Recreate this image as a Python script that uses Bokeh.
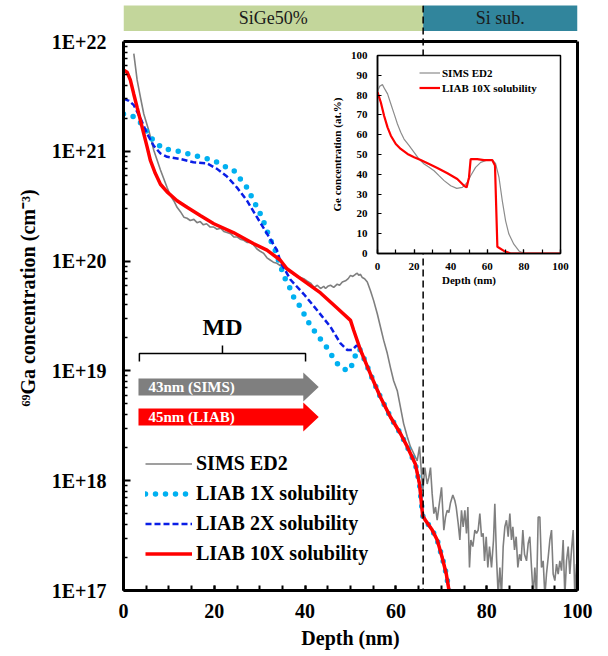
from bokeh.plotting import figure
from bokeh.models import (Range1d, LinearScale, LogAxis, Span, Legend, LegendItem,
                          CustomJSTickFormatter, FixedTicker, SingleIntervalTicker)
from bokeh.core.properties import value
from bokeh.layouts import column
from bokeh.embed import file_html
from bokeh.resources import INLINE

FONT = "Liberation Serif"

# ---------------- data (main plot: depth in nm, log10 of concentration in cm^-3) -------------
sims_depth = [2.27, 3.0, 3.74, 4.47, 5.57, 6.67, 8.14, 9.6, 10.3, 11.07, 11.8, 12.54, 13.3, 14.0, 14.7,
              15.5, 16.2, 16.9, 17.6, 18.3, 19.1, 19.9, 20.6, 21.4, 22.1, 22.8, 23.6, 24.3, 25.0, 25.7,
              26.5, 27.2, 27.9, 28.6, 29.4, 30.1, 30.9, 31.6, 32.3, 33.0, 33.8, 34.5, 35.3, 36.0, 36.8,
              37.5, 38.2, 39.0, 39.7, 40.4, 41.2, 42.0, 42.7, 43.4, 44.1, 44.5, 45.0, 45.6, 46.3, 47.07,
              47.6, 48.2, 48.9, 49.5, 50.0, 50.5, 51.1, 51.5, 51.8, 52.2, 52.6, 53.1, 53.7, 54.4, 55.1,
              55.9, 56.6, 57.3, 58.1, 58.8, 59.5, 60.3, 61.0, 61.7, 62.5, 63.2, 63.9,
              64.69, 65.2, 65.64, 65.94, 66.38, 66.89, 67.26, 67.62, 67.99, 68.36, 68.73, 69.09, 69.46,
              70.05, 70.56, 70.93, 71.29, 71.66, 72.03, 72.54, 72.98, 73.28, 73.72, 74.09, 74.45, 74.82,
              75.19, 75.55, 75.85, 76.21, 76.51, 76.95, 77.39, 77.76, 78.12, 78.49, 78.86, 79.22, 79.52,
              79.89, 80.25, 80.62, 81.06, 81.5, 81.79, 82.16, 82.53, 82.9, 83.26, 83.63, 84.0, 84.36,
              84.73, 85.1, 85.46, 85.76, 86.13, 86.49, 86.86, 87.23, 87.59, 87.96, 88.33, 88.77, 89.14,
              89.5, 89.87, 90.24, 90.6, 90.97, 91.34, 91.71, 92.07, 92.44, 92.81, 93.17, 93.54, 93.91,
              94.28, 94.64, 95.01, 95.38, 95.74, 96.11, 96.48, 96.84, 97.21, 97.58, 97.95, 98.31, 98.68,
              99.05, 99.41, 99.78, 100.0]
sims_log10 = [21.89, 21.65, 21.49, 21.34, 21.19, 21.01, 20.83, 20.67, 20.60, 20.55, 20.49, 20.45, 20.40,
              20.39, 20.37, 20.38, 20.35, 20.36, 20.33, 20.34, 20.31, 20.31, 20.29, 20.30, 20.27, 20.26,
              20.25, 20.22, 20.22, 20.20, 20.19, 20.17, 20.17, 20.15, 20.11, 20.09, 20.07, 20.03, 20.01,
              19.99, 19.98, 19.96, 19.94, 19.92, 19.90, 19.88, 19.86, 19.85, 19.84, 19.82, 19.80, 19.76,
              19.78, 19.75, 19.77, 19.75, 19.77, 19.78, 19.76, 19.79, 19.78, 19.81, 19.82, 19.84, 19.87,
              19.86, 19.88, 19.89, 19.87, 19.88, 19.85, 19.84, 19.81, 19.73, 19.64, 19.52, 19.40, 19.28,
              19.16, 19.03, 18.91, 18.82, 18.67, 18.52, 18.40, 18.31, 18.25,
              18.18, 18.31, 18.06, 17.91, 18.12, 17.97, 18.03, 18.12, 17.88, 17.70, 17.76, 17.64, 17.76,
              17.94, 17.55, 17.67, 17.73, 17.71, 17.80, 17.87, 17.82, 17.76, 17.61, 17.46, 17.73, 17.58,
              17.73, 17.52, 17.76, 17.21, 17.46, 17.40, 17.55, 17.52, 17.55, 17.70, 17.49, 17.52, 17.27,
              17.49, 17.21, 17.40, 17.21, 17.46, 17.79, 17.30, 16.95, 17.21, 16.95, 17.40, 17.58, 17.64,
              17.49, 17.70, 17.46, 17.58, 17.37, 17.49, 17.21, 17.33, 17.27, 17.55, 17.33, 17.27, 17.43,
              17.49, 17.21, 16.95, 17.21, 16.95, 17.67, 17.67, 17.21, 17.27, 16.95, 17.15, 17.30, 17.46,
              17.55, 17.15, 17.09, 17.24, 17.15, 17.27, 17.18, 17.46, 16.95, 17.27, 17.40, 17.15, 17.37,
              17.55, 16.95, 17.24, 16.95]

liab1x_depth = [0.0, 1.5, 3.0, 4.47, 5.9, 7.4, 8.9, 11.1, 13.3, 15.4, 16.9, 18.7, 20.6, 22.4, 24.2, 25.7,
                27.2, 28.3, 29.4, 30.5, 31.3, 32.3, 33.4, 34.5, 35.6, 36.7, 37.5, 39.0, 40.1, 41.2, 43.0,
                45.2, 46.3, 47.8, 49.6, 50.4, 51.6, 52.2, 54.4, 56.6, 58.8, 61.0, 62.5, 64.3, 65.2, 65.9,
                66.5, 68.0, 69.1, 70.2, 71.1, 71.7, 72.0]
liab1x_log10 = [21.34, 21.33, 21.30, 21.22, 21.13, 21.07, 21.02, 21.01, 20.99, 20.96, 20.95, 20.93, 20.90,
                20.86, 20.83, 20.75, 20.67, 20.58, 20.49, 20.40, 20.31, 20.20, 20.10, 19.96, 19.84, 19.75,
                19.67, 19.58, 19.49, 19.41, 19.31, 19.19, 19.11, 19.03, 19.00, 19.06, 19.20, 19.19, 18.97,
                18.76, 18.58, 18.43, 18.31, 18.15, 17.97, 17.68, 17.64, 17.55, 17.46, 17.30, 17.15, 17.00,
                16.90]

liab2x_depth = [0.0, 1.2, 2.27, 3.74, 5.2, 6.67, 8.14, 9.6, 12.5, 15.4, 18.4, 20.6, 22.8, 25.0, 27.2, 29.4,
                31.6, 33.8, 34.6, 36.8, 39.7, 42.7, 45.6, 47.8, 49.3, 50.4, 51.3, 51.9, 52.2, 54.4, 56.6,
                58.8, 61.0, 62.5, 64.3, 65.2, 65.9, 66.5, 68.0, 69.1, 70.2, 71.1, 71.7, 72.0]
liab2x_log10 = [21.48, 21.46, 21.42, 21.30, 21.16, 21.05, 20.98, 20.95, 20.93, 20.90, 20.89, 20.84, 20.77,
                20.67, 20.55, 20.40, 20.25, 20.10, 19.99, 19.83, 19.70, 19.55, 19.40, 19.25, 19.19, 19.19,
                19.23, 19.22, 19.19, 18.97, 18.76, 18.58, 18.43, 18.31, 18.15, 17.97, 17.68, 17.64, 17.55,
                17.46, 17.30, 17.15, 17.00, 16.90]

liab10x_depth = [0.0, 0.8, 1.5, 2.27, 3.0, 3.74, 4.47, 5.2, 5.9, 7.0, 8.14, 9.6, 11.8, 14.0, 16.9, 19.9,
                 24.2, 28.6, 31.6, 34.5, 36.0, 39.7, 43.4, 47.1, 50.0, 50.7, 52.2, 54.4, 56.6, 58.8, 61.0,
                 62.5, 64.3, 65.2, 65.9, 66.5, 68.0, 69.1, 70.2, 71.1, 71.7, 72.0]
liab10x_log10 = [21.74, 21.72, 21.65, 21.52, 21.40, 21.28, 21.16, 21.04, 20.92, 20.80, 20.70, 20.63, 20.55,
                 20.49, 20.415, 20.34, 20.26, 20.16, 20.10, 20.01, 19.93, 19.82, 19.71, 19.57, 19.46, 19.37,
                 19.19, 18.97, 18.76, 18.58, 18.43, 18.31, 18.15, 17.97, 17.68, 17.64, 17.55, 17.46, 17.30,
                 17.15, 17.00, 16.90]

# layers (nm)
layer_names = ["SiGe50%", "Si sub."]
layer_start = [0, 66]
layer_end = [66, 100]
layer_colors = ["#c3d69b", "#31859c"]
interface_depth = 66

# annotation values
md_start, md_end = 3.5, 40.1
arrow_labels = ["43nm (SIMS)", "45nm (LIAB)"]
arrow_colors = ["#7f7f7f", "#ff0000"]
arrow_start, arrow_head_base, arrow_tip = 3.3, 39.6, 43.0

# inset: Ge concentration (at.%)
inset_sims_depth = [0, 1.2, 2.7, 4.0, 5.5, 7.3, 9.1, 10.9, 12.7, 14.5, 17.3, 20.0, 22.7, 25.5, 28.2, 30.9,
                    33.6, 36.4, 40.0, 43.3, 46.4, 49.1, 50.9, 53.6, 56.4, 60.0, 62.7, 64.5, 66.4, 68.2,
                    70.0, 71.8, 74.5, 77.3, 80.0, 100.0]
inset_sims_ge = [82, 84.5, 85.3, 83, 80.6, 75.5, 70.5, 65.4, 61.2, 57.8, 54.5, 51.1, 47.7, 45.2, 43.5,
                 41.8, 39.3, 36.8, 34.2, 32.9, 33.4, 35.9, 39.3, 43.5, 46.0, 47.2, 47.2, 45.5, 38.4,
                 26.6, 16.5, 9.8, 4.7, 1.3, 0, 0]
inset_liab_depth = [0, 1.8, 3.6, 5.5, 7.3, 10.0, 12.7, 16.4, 20.0, 23.6, 28.2, 32.7, 38.2, 43.6, 47.3, 48.7,
                    50.0, 50.9, 54.5, 58.2, 62.7, 64.2, 65.5, 69.1, 72.7, 100.0]
inset_liab_ge = [81.5, 76.4, 69.6, 63.7, 59.5, 55.3, 52.8, 50.3, 48.6, 47.2, 45.2, 43.2, 40.5, 37.6, 34.2,
                 33.4, 38.4, 47.7, 47.7, 47.2, 47.2, 44.4, 3.4, 1.3, 0, 0]

y_decades = [17, 18, 19, 20, 21, 22]

# ---------------- geometry ----------------
W, H = 608, 656
F_LEFT, F_RIGHT, F_TOP_AXIS, F_BOTTOM, F_TOP = 123, 577, 41, 590, 5
decade_px = (F_BOTTOM - F_TOP_AXIS) / (y_decades[-1] - y_decades[0])
y_top = 10 ** (y_decades[-1] + (F_TOP_AXIS - F_TOP) / decade_px)

p = figure(width=W, height=H, x_range=Range1d(0, 100), y_range=Range1d(10 ** y_decades[0], y_top),
           y_axis_type="log", output_backend="svg", toolbar_location=None,
           min_border_left=F_LEFT, min_border_right=W - F_RIGHT, min_border_top=F_TOP,
           min_border_bottom=H - F_BOTTOM)
p.extra_y_ranges = {"px": Range1d(start=F_BOTTOM, end=F_TOP)}
p.extra_y_scales = {"px": LinearScale()}
p.outline_line_color = None
p.grid.visible = False
p.background_fill_color = "white"
p.border_fill_color = "white"

# axes
xa = p.xaxis[0]
xa.ticker = SingleIntervalTicker(interval=20, num_minor_ticks=4)
xa.bounds = (0, 100)
ya = p.yaxis[0]
ya.ticker = FixedTicker(ticks=[10.0 ** e for e in y_decades],
                        minor_ticks=[k * 10.0 ** e for e in y_decades[:-1] for k in range(2, 10)])
ya.bounds = (10 ** y_decades[0], 10 ** y_decades[-1])
ya.formatter = CustomJSTickFormatter(code="return '1E+' + Math.round(Math.log10(tick));")
for ax in (xa, ya):
    ax.axis_line_width = 3
    ax.axis_line_color = "black"
    ax.major_tick_out = 0
    ax.minor_tick_out = 0
    ax.major_tick_line_width = 2
    ax.minor_tick_line_width = 1.5
    ax.major_label_text_font = FONT
    ax.major_label_text_font_style = "bold"
    ax.major_label_text_font_size = "20px"
    ax.major_label_text_color = "black"
    ax.axis_label_text_font = FONT
    ax.axis_label_text_font_style = "bold"
    ax.axis_label_text_font_size = "20px"
    ax.axis_label_text_color = "black"
xa.major_tick_in = 5
xa.minor_tick_in = 5
xa.minor_tick_line_width = 2
ya.major_tick_in = 7
ya.minor_tick_in = 4
xa.major_label_standoff = 13
xa.axis_label_standoff = 6
ya.major_label_standoff = 17
ya.axis_label_standoff = 10
xa.axis_label = "Depth (nm)"
ya.axis_label = "\u2076\u2079Ga concentration (cm\u207b\u00b3)"

ra = LogAxis(bounds=(10 ** y_decades[0], 10 ** y_decades[-1]), ticker=FixedTicker(ticks=[]),
             major_label_text_font_size="0px", major_tick_line_color=None, minor_tick_line_color=None,
             axis_line_width=3, axis_line_color="black")
p.add_layout(ra, "right")
p.add_layout(Span(location=10.0 ** y_decades[-1], dimension="width", line_width=3, line_color="black"))

# layer bar
p.quad(left=layer_start, right=layer_end, bottom=[30.5] * 2, top=[4] * 2, y_range_name="px",
       fill_color=layer_colors, line_color=None)
p.text(x=[(a + b) / 2 for a, b in zip(layer_start, layer_end)], y=[17.5] * 2, text=layer_names,
       y_range_name="px", text_align="center", text_baseline="middle", text_font=value(FONT),
       text_font_size="18px", text_color="#1a1a1a")

# curves
r_sims = p.line(sims_depth, [10 ** v for v in sims_log10], line_color="#7f7f7f", line_width=1.6)
r_1x = p.line(liab1x_depth, [10 ** v for v in liab1x_log10], line_color="#00b0f0", line_width=5.5,
              line_dash="0 10", line_cap="round")
r_2x = p.line(liab2x_depth, [10 ** v for v in liab2x_log10], line_color="#0a1ee6", line_width=2.5,
              line_dash="6 3")
r_10x = p.line(liab10x_depth, [10 ** v for v in liab10x_log10], line_color="#ff0000", line_width=3.5)

p.add_layout(Span(location=interface_depth, dimension="height", line_dash="7 4", line_width=1.5,
                  line_color="black"))

# MD bracket
md_mid = (md_start + md_end) / 2
p.multi_line(xs=[[md_start, md_start, md_end, md_end], [md_mid, md_mid]],
             ys=[[361, 353, 353, 361], [353, 345]], y_range_name="px", line_color="black", line_width=1.5)
p.text(x=[md_mid], y=[326], text=["MD"], y_range_name="px", text_align="center", text_baseline="middle",
       text_font=value(FONT), text_font_style="bold", text_font_size="24px", text_color="black")

# arrows
centers = [386.5, 416.5]
xs, ys = [], []
for c in centers:
    xs.append([arrow_start, arrow_head_base, arrow_head_base, arrow_tip, arrow_head_base, arrow_head_base,
               arrow_start])
    ys.append([c - 8.5, c - 8.5, c - 14.5, c, c + 14.5, c + 8.5, c + 8.5])
p.patches(xs=xs, ys=ys, y_range_name="px", fill_color=arrow_colors, line_color=None)
p.text(x=[5.5, 5.5], y=centers, text=arrow_labels, y_range_name="px", text_align="left",
       text_baseline="middle", text_font=value(FONT), text_font_style="bold", text_font_size="15px",
       text_color="white")

legend = Legend(items=[LegendItem(label="SIMS ED2", renderers=[r_sims]),
                       LegendItem(label="LIAB 1X solubility", renderers=[r_1x]),
                       LegendItem(label="LIAB 2X solubility", renderers=[r_2x]),
                       LegendItem(label="LIAB 10X solubility", renderers=[r_10x])],
                location=(22, 25), glyph_width=47, glyph_height=23, label_height=23, spacing=7,
                padding=0, margin=0, label_standoff=4, border_line_color=None,
                background_fill_alpha=0, label_text_font=FONT, label_text_font_style="bold",
                label_text_font_size="20px", label_text_color="black")
p.add_layout(legend)

# ---------------- inset ----------------
# the column aligns plot frames horizontally, so the inset uses the same side borders as the main plot
I_FRAME_LEFT, I_FRAME_RIGHT = 377, 560
I_LEFT = I_FRAME_LEFT - F_LEFT
I_W = F_LEFT + (I_FRAME_RIGHT - I_FRAME_LEFT) + (W - F_RIGHT)
I_TOP, I_H = 48, 240
inset = figure(width=I_W, height=I_H, x_range=Range1d(0, 100), y_range=Range1d(0, 100),
               output_backend="svg", toolbar_location=None, min_border_left=F_LEFT,
               min_border_right=W - F_RIGHT, min_border_top=7, min_border_bottom=35)
inset.styles = {"position": "absolute", "left": f"{I_LEFT}px", "top": f"{I_TOP}px",
                "width": f"{I_W}px", "height": f"{I_H}px"}
inset.border_fill_color = None
inset.background_fill_color = "white"
inset.outline_line_color = "black"
inset.outline_line_width = 1.5
inset.grid.visible = False
ixa, iya = inset.xaxis[0], inset.yaxis[0]
ixa.ticker = SingleIntervalTicker(interval=20, num_minor_ticks=2)
iya.ticker = SingleIntervalTicker(interval=10, num_minor_ticks=0)
for ax in (ixa, iya):
    ax.axis_line_width = 1.5
    ax.major_tick_in = 4
    ax.major_tick_out = 0
    ax.minor_tick_in = 4
    ax.minor_tick_out = 0
    ax.major_tick_line_width = 1.2
    ax.minor_tick_line_width = 1.2
    ax.major_label_text_font = FONT
    ax.major_label_text_font_style = "bold"
    ax.major_label_text_font_size = "11px"
    ax.major_label_text_color = "black"
    ax.axis_label_text_font = FONT
    ax.axis_label_text_font_style = "bold"
    ax.axis_label_text_font_size = "11px"
    ax.axis_label_text_color = "black"
ixa.major_label_standoff = 9
ixa.axis_label_standoff = 1
iya.major_label_standoff = 10
iya.axis_label_standoff = 5
ixa.axis_label = "Depth (nm)"
iya.axis_label = "Ge concentration (at.%)"

ri_sims = inset.line(inset_sims_depth, inset_sims_ge, line_color="#8c8c8c", line_width=1.2)
ri_liab = inset.line(inset_liab_depth, inset_liab_ge, line_color="#ff0000", line_width=2.2)
ileg = Legend(items=[LegendItem(label="SIMS ED2", renderers=[ri_sims]),
                     LegendItem(label="LIAB 10X solubility", renderers=[ri_liab])],
              location=(42, 158), glyph_width=21, glyph_height=15, label_height=15, spacing=0,
              padding=0, margin=0, label_standoff=2, border_line_color=None, background_fill_alpha=0,
              label_text_font=FONT, label_text_font_style="bold", label_text_font_size="11px",
              label_text_color="black")
inset.add_layout(ileg)

layout = column(p, inset, width=W, height=H)
open("out.html", "w").write(file_html(layout, INLINE))
